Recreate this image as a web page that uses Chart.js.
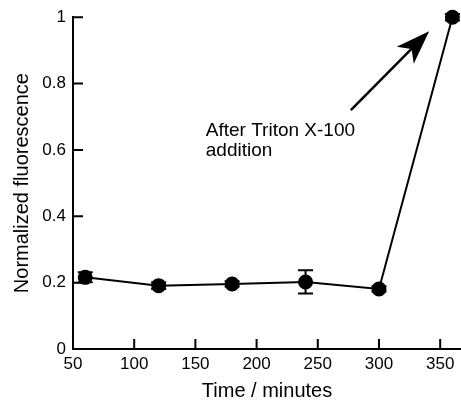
<!DOCTYPE html>
<html><head><meta charset="utf-8">
<script src="https://cdn.jsdelivr.net/npm/chart.js@4/dist/chart.umd.min.js"></script>
<style>html,body{margin:0;padding:0;background:#fff}#w{width:461px;height:404px}</style>
</head><body><div id="w"><canvas id="c"></canvas></div>
<script>
const times = [60, 120, 180, 240, 300, 360];
const fluorescence = [0.216, 0.191, 0.196, 0.202, 0.181, 1.0];
const errors = [0.015, 0.010, 0.008, 0.035, 0.008, 0.010];
const xTicks = [50, 100, 150, 200, 250, 300, 350];
const yTicks = [0, 0.2, 0.4, 0.6, 0.8, 1];
const annotationLines = ["After Triton X-100", "addition"];
const annotationPos = [{x: 158.5, y: 0.658}, {x: 158.5, y: 0.598}];
const arrowFrom = {x: 277, y: 0.72};
const arrowTo = {x: 341, y: 0.958};

const FONT = "'Liberation Sans', Arial, sans-serif";

const extras = {
  id: 'extras',
  afterDatasetsDraw(chart) {
    const ctx = chart.ctx, xs = chart.scales.x, ys = chart.scales.y;
    ctx.save();
    ctx.strokeStyle = '#000'; ctx.fillStyle = '#000'; ctx.lineWidth = 2;
    // error bars
    times.forEach((t, i) => {
      const px = xs.getPixelForValue(t);
      const top = ys.getPixelForValue(fluorescence[i] + errors[i]);
      const bot = ys.getPixelForValue(fluorescence[i] - errors[i]);
      ctx.beginPath();
      ctx.moveTo(px, top); ctx.lineTo(px, bot);
      ctx.moveTo(px - 7.5, top); ctx.lineTo(px + 7.5, top);
      ctx.moveTo(px - 7.5, bot); ctx.lineTo(px + 7.5, bot);
      ctx.stroke();
    });
    // inward tick marks
    const bottom = chart.chartArea.bottom, left = chart.chartArea.left;
    ctx.beginPath();
    xTicks.forEach(v => { const p = xs.getPixelForValue(v); ctx.moveTo(p, bottom); ctx.lineTo(p, bottom - 10); });
    yTicks.forEach(v => { const p = ys.getPixelForValue(v); ctx.moveTo(left, p); ctx.lineTo(left + 10, p); });
    ctx.stroke();
    // annotation text
    ctx.font = "19px " + FONT;
    ctx.textAlign = 'left'; ctx.textBaseline = 'middle';
    annotationLines.forEach((s, i) => {
      ctx.fillText(s, xs.getPixelForValue(annotationPos[i].x), ys.getPixelForValue(annotationPos[i].y));
    });
    // arrow
    const x1 = xs.getPixelForValue(arrowFrom.x), y1 = ys.getPixelForValue(arrowFrom.y);
    const x2 = xs.getPixelForValue(arrowTo.x), y2 = ys.getPixelForValue(arrowTo.y);
    const ang = Math.atan2(y2 - y1, x2 - x1);
    const c = Math.cos(ang), s = Math.sin(ang);
    const hl = 34, hw = 12, notch = 9;
    const bx = x2 - hl * c, by = y2 - hl * s;
    ctx.lineWidth = 2.5;
    ctx.beginPath(); ctx.moveTo(x1, y1); ctx.lineTo(bx + notch * c + 2 * c, by + notch * s + 2 * s); ctx.stroke();
    ctx.beginPath();
    ctx.moveTo(x2, y2);
    ctx.lineTo(bx + hw * s, by - hw * c);
    ctx.lineTo(bx + notch * c, by + notch * s);
    ctx.lineTo(bx - hw * s, by + hw * c);
    ctx.closePath(); ctx.fill();
    ctx.restore();
  }
};

new Chart(document.getElementById('c'), {
  type: 'scatter',
  data: {
    datasets: [{
      data: times.map((t, i) => ({x: t, y: fluorescence[i]})),
      showLine: true,
      borderColor: '#000', backgroundColor: '#000',
      borderWidth: 2, pointRadius: 6.5, pointHoverRadius: 6.5,
      clip: false
    }]
  },
  options: {
    responsive: true, maintainAspectRatio: false, animation: false,
    events: [],
    layout: {autoPadding: false, padding: {top: 16, right: 0, left: 0, bottom: 0}},
    plugins: {legend: {display: false}, tooltip: {enabled: false}},
    scales: {
      x: {
        type: 'linear', min: 50, max: 367,
        afterBuildTicks(s) { s.ticks = xTicks.map(v => ({value: v})); },
        afterFit(s) { s.height = 55; },
        grid: {display: true, drawOnChartArea: false, drawTicks: false, color: '#000'},
        border: {display: true, color: '#000', width: 2},
        ticks: {color: '#000', font: {family: FONT, size: 17}, padding: 5},
        title: {display: true, text: 'Time / minutes', color: '#000', font: {family: FONT, size: 20}, padding: {top: 0, bottom: 1}}
      },
      y: {
        type: 'linear', min: 0, max: 1,
        afterBuildTicks(s) { s.ticks = yTicks.map(v => ({value: v})); },
        afterFit(s) { s.width = 73; },
        grid: {display: true, drawOnChartArea: false, drawTicks: false, color: '#000'},
        border: {display: true, color: '#000', width: 2},
        ticks: {color: '#000', font: {family: FONT, size: 17}, padding: 7,
          callback: v => String(Math.round(v * 10) / 10)},
        title: {display: true, text: 'Normalized fluorescence', color: '#000', font: {family: FONT, size: 20}, padding: {top: 10, bottom: 0}}
      }
    }
  },
  plugins: [extras]
});
</script></body></html>
